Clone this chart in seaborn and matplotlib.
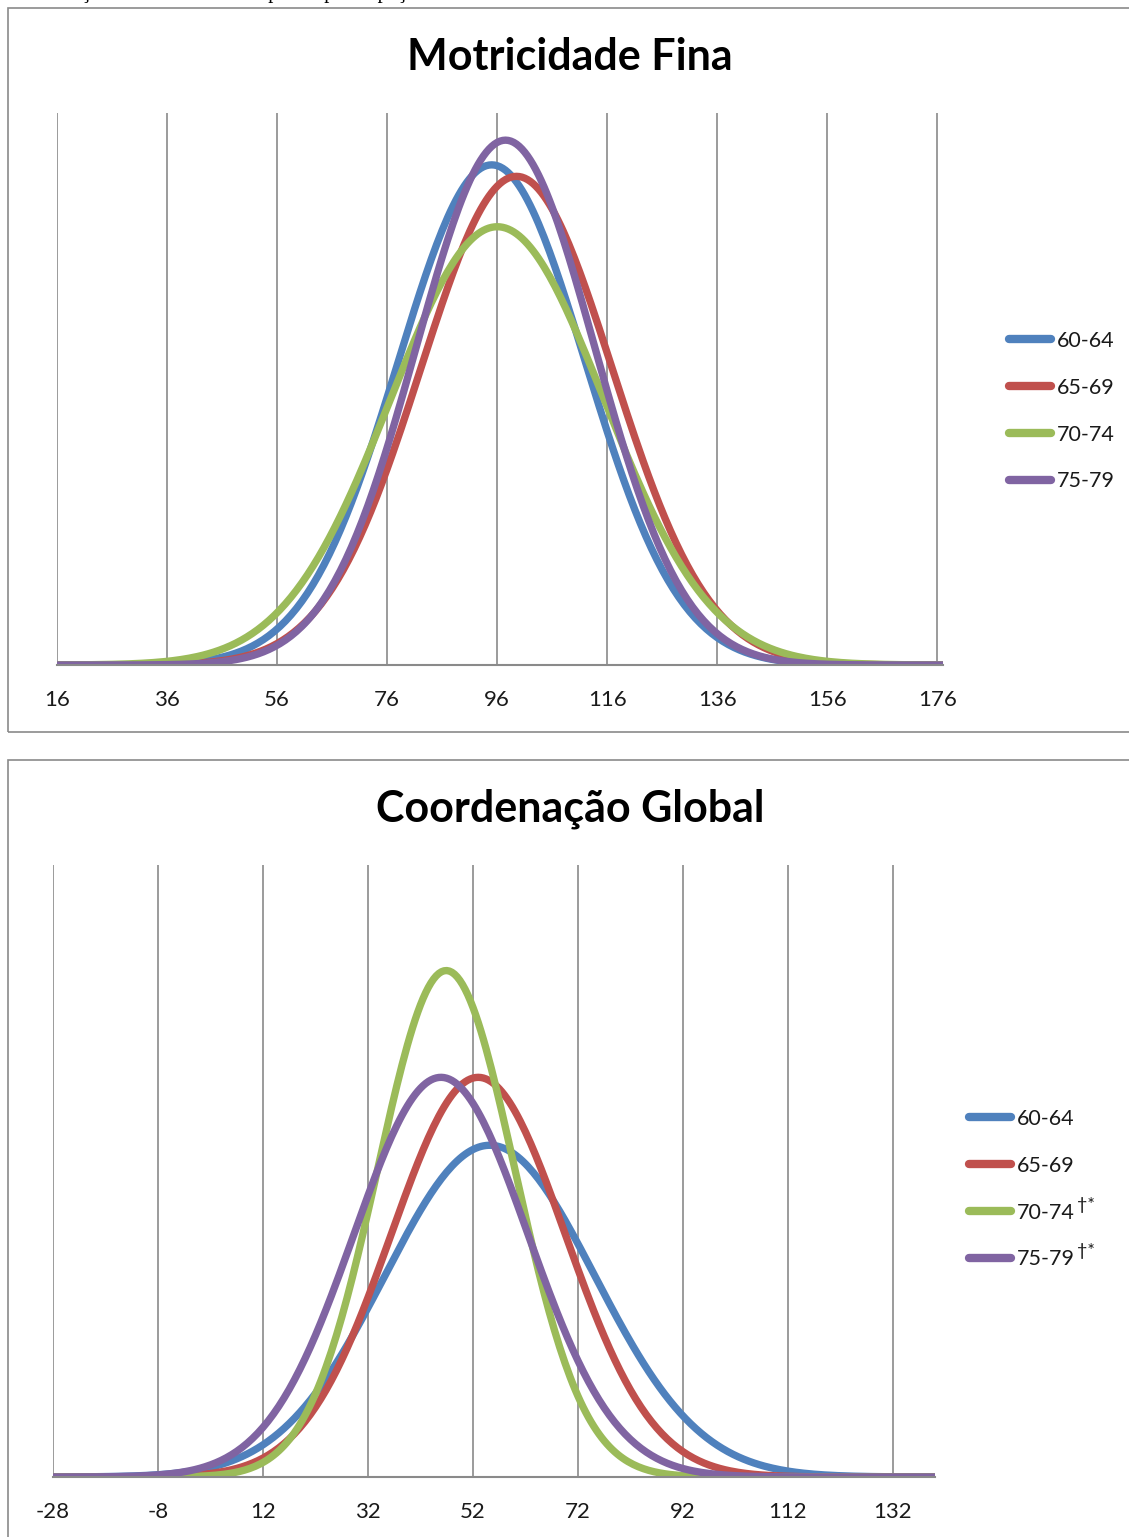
import numpy as np
import pandas as pd
import matplotlib
matplotlib.use('Agg')
import matplotlib.pyplot as plt
from matplotlib.patches import Rectangle
import seaborn as sns

# age groups and their colours (Excel 2010 palette)
grupos = ['60-64', '65-69', '70-74', '75-79']
cores = ['#4F81BD', '#C0504D', '#9BBB59', '#8064A2']

# Motricidade Fina - mean and sd
mf_media = [95.0, 99.5, 96.0, 97.5]
mf_dp = [17.0, 17.4, 19.4, 16.2]
mf_ticks = [16, 36, 56, 76, 96, 116, 136, 156, 176]

# Coordenacao Global - mean and sd
cg_media = [55.2, 53.0, 46.9, 45.9]
cg_dp = [20.0, 16.6, 13.1, 16.6]
cg_ticks = [-28, -8, 12, 32, 52, 72, 92, 112, 132]
cg_marca = ['', '', '†*', '†*']  # significance marks in the legend


def normal(x, m, s):
    return np.exp(-0.5 * ((x - m) / s) ** 2) / (s * np.sqrt(2 * np.pi))


def tabela(xs, medias, dps, nomes):
    linhas = []
    for g, m, s in zip(nomes, medias, dps):
        linhas.append(pd.DataFrame({'x': xs, 'y': normal(xs, m, s), 'grupo': g}))
    return pd.concat(linhas, ignore_index=True)


sns.set_style('white')
plt.rcParams['font.family'] = ['Lato', 'DejaVu Sans']
plt.rcParams['axes.unicode_minus'] = False

W, H = 1129, 1537
fig = plt.figure(figsize=(W / 100, H / 100), dpi=100)


def rect(l, r, t, b):
    return [l / W, 1 - b / H, (r - l) / W, (b - t) / H]


def painel(ax, df, ticks, xlim, ylim, leg_xy):
    sns.lineplot(data=df, x='x', y='y', hue='grupo', palette=cores, lw=5.3,
                 ax=ax, legend=False, solid_capstyle='round')
    ax.set_xlim(*xlim)
    ax.set_ylim(*ylim)
    ax.set_xticks(ticks)
    ax.set_yticks([])
    ax.set_xlabel('')
    ax.set_ylabel('')
    ax.grid(axis='x', color='#8a8a8a', lw=1.2)
    ax.set_axisbelow(True)
    for sp in ['top', 'left', 'right']:
        ax.spines[sp].set_visible(False)
    ax.spines['bottom'].set_color('#8a8a8a')
    ax.spines['bottom'].set_linewidth(1.5)
    ax.tick_params(axis='x', direction='out', length=6, width=1.2,
                   color='#8a8a8a', pad=12, labelsize=16, labelcolor='#1a1a1a')
    handles = [plt.Line2D([], [], color=c, lw=6, solid_capstyle='round') for c in cores]
    return fig.legend(handles, grupos, loc='upper left',
                      bbox_to_anchor=(leg_xy[0] / W, 1 - leg_xy[1] / H),
                      frameon=False, fontsize=15.5, handlelength=1.95, handletextpad=0.28,
                      labelspacing=1.25, borderpad=0, labelcolor='#1a1a1a')


# top panel
x1 = np.arange(16, 177.5, 0.5)
df1 = tabela(x1, mf_media, mf_dp, grupos)
ax1 = fig.add_axes(rect(57, 943, 113, 665))
painel(ax1, df1, mf_ticks, (16, 177), (0, 0.0259), (998, 320))

# bottom panel
x2 = np.arange(-28, 140.5, 0.5)
df2 = tabela(x2, cg_media, cg_dp, grupos)
ax2 = fig.add_axes(rect(53, 935, 865, 1477))
leg2 = painel(ax2, df2, cg_ticks, (-28, 140), (0, 0.0368), (958, 1098))

# superscript marks after the legend labels
fig.canvas.draw()
for txt, marca in zip(leg2.get_texts(), cg_marca):
    if marca:
        bb = txt.get_window_extent()
        fig.text(bb.x1 / W + 2 / W, bb.y1 / H - 2 / H, marca, ha='left', va='center',
                 fontsize=13, color='#1a1a1a')

# titles
fig.text(570 / W, 1 - 57 / H, 'Motricidade Fina', ha='center', va='center',
         fontsize=31, fontweight='bold', color='#000000')
fig.text(570 / W, 1 - 809 / H, 'Coordenação Global', ha='center', va='center',
         fontsize=31, fontweight='bold', color='#000000')

# chart area borders
for (t, b) in [(8, 732), (760, 1560)]:
    fig.patches.append(Rectangle((8 / W, 1 - b / H), (1140 - 8) / W, (b - t) / H,
                                 transform=fig.transFigure, fill=False,
                                 ec='#8a8a8a', lw=1.2))

# bit of the page text cut off above the chart
fig.text(0, 1 + 7 / H, 'Coordenação Global das idosas para a participação desse estudo.',
         ha='left', va='center', fontsize=15, family='Liberation Serif', color='black')

fig.savefig('out.png', dpi=100)
